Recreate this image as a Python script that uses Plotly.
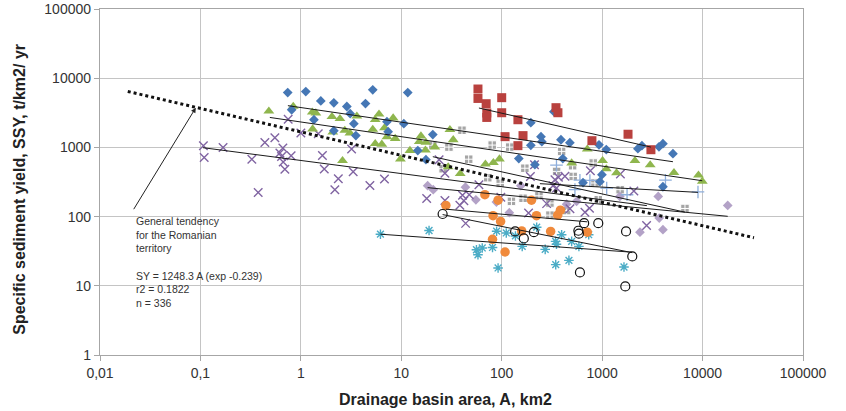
import math
import plotly.graph_objects as go

# ---------------- data ----------------
blue_A = [0.74, 1.12, 5.2, 11.6, 1.58, 2.13, 2.87, 4.4, 0.81, 3.1, 1.35, 3.37, 7.2, 10.6, 2.13,
          3.53, 7.4, 20.6, 14.6, 17.6, 148, 195, 195, 214, 331, 246, 251, 389, 477, 930,
          1100, 2270, 2490, 3680, 4030, 5070, 995, 950, 645, 4030, 406]
blue_S = [6200, 6400, 6800, 6200, 4700, 4400, 3900, 4300, 3500, 3070, 2510, 2200, 2350, 2200, 1740,
          1480, 1690, 1530, 900, 664, 690, 2280, 1070, 562, 3280, 1430, 1210, 1290, 1170, 1090,
          930, 960, 1060, 1020, 1130, 810, 404, 319, 309, 270, 690]

red_A = [58, 58, 70, 71, 71, 100, 100, 145, 108, 163, 145, 347, 363, 1810, 791, 3060]
red_S = [6980, 5100, 4280, 3140, 2710, 5230, 3170, 2510, 1430, 1480, 1060, 3750, 3170, 1550, 1250, 926]

green_A = [0.48, 0.84, 1.30, 1.41, 2.04, 2.45, 3.61, 6.0, 5.5, 8.3, 1.31, 2.08, 2.74, 3.08, 5.2,
           6.8, 7.2, 8.7, 5.5, 6.4, 2.6, 9.8, 12.2, 15.7, 15.1, 17.6, 17.4, 21.6, 30.5, 32.9,
           29.3, 38.6, 68.8, 82.6, 94.9, 711, 1010, 1100, 1390, 2120, 3010, 5190, 9100, 9930, 497]
green_S = [3340, 3910, 3230, 3140, 2780, 2600, 2820, 3020, 2510, 2660, 1840, 1660, 1760, 1610, 1820,
           1910, 1420, 1340, 1130, 1110, 643, 675, 902, 1460, 1210, 1180, 910, 1010, 1800, 1290,
           521, 417, 572, 601, 679, 942, 643, 488, 427, 643, 557, 431, 397, 323, 595]

purple_A = [0.107, 0.109, 0.168, 0.325, 0.438, 0.551, 0.376, 0.662, 0.618, 0.642,
            0.80, 0.693, 0.748, 0.667, 1.0, 1.64, 1.71, 2.18, 2.36, 1.49,
            3.2, 3.32, 4.87, 6.8, 23.8, 27.2, 17.9, 27.2, 38.3, 42,
            40.7, 47.5, 59.3, 43.7, 185, 193, 212, 98, 339, 367,
            426, 764, 1520, 2070, 2770, 280, 478, 674, 748, 352, 324]
purple_S = [1060, 717, 1000, 675, 1180, 1380, 223, 980, 830, 741,
            759, 484, 2560, 615, 1610, 764, 488, 245, 353, 1580,
            948, 445, 282, 349, 664, 424, 183, 171, 146, 170,
            204, 207, 289, 79.8, 113, 381, 562, 191, 341, 371,
            384, 460, 413, 234, 74.6, 154, 130, 116, 132, 259, 280]

cyan_A = [6.2, 18.9, 56, 58, 64, 81, 89, 92, 111, 137, 160, 223, 271, 344, 351, 395, 345, 467,
          497, 587, 735, 1650]
cyan_S = [55.7, 63, 33.2, 28.1, 35.2, 35.8, 61.5, 18.1, 58, 52.5, 37.1, 70.3, 33.6, 43.8, 39.9,
          54.7, 20.2, 23.3, 43.8, 37.1, 54.7, 18.7]

orange_A = [27.8, 68, 92, 82, 97.5, 198, 222, 361, 384, 158, 81, 108, 307, 711]
orange_S = [145, 207, 173, 103, 85.3, 173, 103, 105, 124, 62, 46.9, 30.8, 61.1, 59.5]

circle_A = [25.8, 136, 166, 209, 580, 587, 662, 915, 601, 1730, 1995, 1700]
circle_S = [109, 61.1, 48.4, 59.5, 62.5, 56.6, 80.3, 80.3, 15.6, 61.1, 26.6, 9.8]

gray_A = [40.2, 20.6, 29.8, 80.4, 120, 46.9, 26.1, 72.6, 96.6, 170, 125, 163, 235, 302, 302,
          352, 508, 515, 815, 848, 443, 1510, 915, 6680, 395]
gray_S = [1770, 1080, 1010, 1080, 1010, 675, 492, 365, 302, 500, 166, 184, 200, 105, 157,
          450, 544, 381, 595, 306, 122, 245, 175, 131, 875]

lblue_A = [351, 601, 755, 1110, 1770, 4270, 9000, 536]
lblue_S = [553, 336, 333, 259, 207, 336, 227, 245]

lpurple_A = [18.3, 20.8, 43.5, 55.3, 88.5, 119, 155, 443, 1500, 3620, 2380, 4030, 3700, 17800, 557]
lpurple_S = [280, 245, 266, 175, 162, 114, 280, 151, 196, 196, 59.5, 64.7, 95.4, 145, 166]

# per-series power trend lines: (A_start, SSY_start, A_end, SSY_end)
trend_blue = [0.743, 4010, 5070, 621]
trend_green = [0.491, 2710, 9930, 330]
trend_red = [59.3, 3710, 3060, 1010]
trend_purple = [0.106, 990, 2790, 144]
trend_gray = [20.6, 734, 6680, 116]
trend_lpurple = [18.3, 262, 17800, 101]
trend_lblue = [240, 299, 9000, 224]
trend_orange = [27.8, 128, 711, 84]
trend_circle = [25.8, 107, 1995, 30.1]
trend_cyan = [6.2, 55.7, 1980, 30.6]

# general tendency (dotted)
general_A = [0.0189, 32500]
general_S = [6440, 49.5]

arrow_head = [0.09, 3750]

x_tickvals = [0.01, 0.1, 1, 10, 100, 1000, 10000, 100000]
x_ticktext = ["0,01", "0,1", "1", "10", "100", "1000", "10000", "100000"]
y_tickvals = [1, 10, 100, 1000, 10000, 100000]
y_ticktext = ["1", "10", "100", "1000", "10000", "100000"]

note_text = ("General tendency<br>for the Romanian<br>territory<br><br>"
             "SY = 1248.3 A (exp -0.239)<br>r2 = 0.1822<br>n = 336")
x_title = "Drainage basin area, A, km2"
y_title = "Specific sediment yield, SSY, t/km2/ yr"

# ---------------- figure ----------------
FONT = "Liberation Sans, Arial, Helvetica, sans-serif"
fig = go.Figure()


def add_markers(x, y, symbol, color, size, line_color=None, line_width=0):
    fig.add_trace(go.Scatter(
        x=x, y=y, mode="markers", showlegend=False, hoverinfo="skip",
        marker=dict(symbol=symbol, color=color, size=size,
                    line=dict(color=line_color if line_color else color, width=line_width))))


add_markers(gray_A, gray_S, "square-cross", "#a5a5a5", 8.5, "#ffffff", 1)
add_markers(lpurple_A, lpurple_S, "diamond", "#b3a2c7", 7.5)
add_markers(lblue_A, lblue_S, "cross-thin-open", "#8eaedb", 9, "#8eaedb", 1.3)
add_markers(purple_A, purple_S, "x-thin-open", "#8064a2", 8.5, "#8064a2", 1.4)
add_markers(cyan_A, cyan_S, "asterisk-open", "#4bacc6", 8, "#4bacc6", 1.4)
add_markers(orange_A, orange_S, "circle", "#f08a3c", 9.5)
add_markers(circle_A, circle_S, "circle-open", "#111111", 9, "#111111", 1.2)
add_markers(green_A, green_S, "triangle-up", "#8fb64e", 9.5)
add_markers(blue_A, blue_S, "diamond", "#4577b5", 7.5)
add_markers(red_A, red_S, "square", "#b9413e", 9)

for t in [trend_blue, trend_green, trend_red, trend_purple, trend_gray, trend_lpurple,
          trend_lblue, trend_orange, trend_circle, trend_cyan]:
    fig.add_trace(go.Scatter(x=[t[0], t[2]], y=[t[1], t[3]], mode="lines", showlegend=False,
                             hoverinfo="skip", line=dict(color="#1a1a1a", width=1)))

fig.add_trace(go.Scatter(x=general_A, y=general_S, mode="lines", showlegend=False, hoverinfo="skip",
                         line=dict(color="#111111", width=3, dash="dot")))

axis_common = dict(
    type="log", showgrid=True, gridcolor="#c4c4c4", gridwidth=1,
    showline=True, linecolor="#a6a6a6", linewidth=1.3, mirror=True,
    ticks="outside", ticklen=5, tickcolor="#a6a6a6",
    tickfont=dict(family=FONT, size=14, color="#333333"),
    zeroline=False, automargin=False,
)
fig.update_xaxes(range=[-2, 5], tickvals=x_tickvals, ticktext=x_ticktext, **axis_common)
fig.update_yaxes(range=[0, 5], tickvals=y_tickvals, ticktext=y_ticktext, **axis_common)

fig.add_shape(type="rect", xref="paper", yref="paper", x0=0.04, x1=0.267, y0=0.058, y1=0.419,
              fillcolor="white", line=dict(width=0), layer="between")

fig.add_annotation(x=math.log10(arrow_head[0]), y=math.log10(arrow_head[1]), xref="x", yref="y",
                   text="", showarrow=True, ax=-63, ay=103, arrowhead=2, arrowsize=1,
                   arrowwidth=1, arrowcolor="#222222", standoff=0)
fig.add_annotation(xref="paper", yref="paper", x=0.048, y=0.41, xanchor="left", yanchor="top",
                   align="left", showarrow=False, text=note_text,
                   font=dict(family=FONT, size=10.5, color="#333333"))
fig.add_annotation(xref="paper", yref="paper", x=0.492, y=-0.13, xanchor="center", yanchor="middle",
                   showarrow=False, text="<b>" + x_title + "</b>",
                   font=dict(family=FONT, size=16, color="#222222"))
fig.add_annotation(xref="paper", yref="paper", x=-0.114, y=0.48, xanchor="center", yanchor="middle",
                   showarrow=False, textangle=-90, text="<b>" + y_title + "</b>",
                   font=dict(family=FONT, size=16, color="#222222"))

fig.update_layout(
    width=846, height=411,
    margin=dict(l=100, r=43, t=9, b=56),
    paper_bgcolor="white", plot_bgcolor="white",
    showlegend=False,
)

# remove the browser's default 8px body margin so the figure fills the window exactly
fig.write_html("out.html", config={"displayModeBar": False},
               post_script="document.body.style.margin='0px';")
